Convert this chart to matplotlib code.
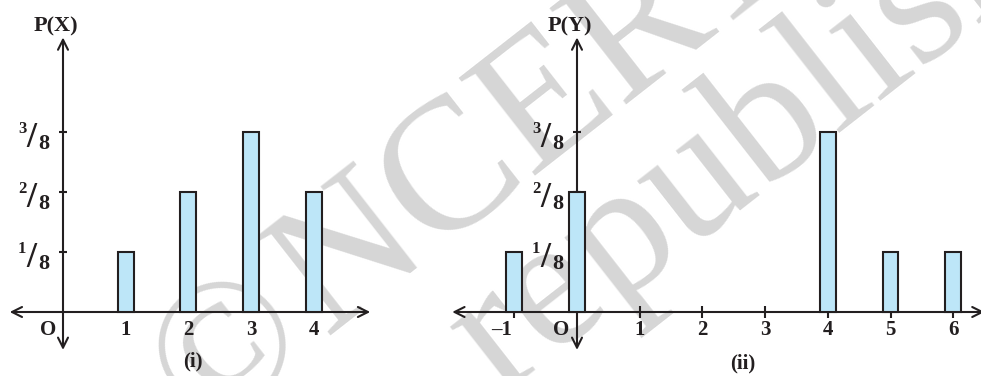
import matplotlib
matplotlib.use("Agg")
import matplotlib.pyplot as plt

# panel (i): distribution of X
x1 = [1, 2, 3, 4]
p1 = [1 / 8, 2 / 8, 3 / 8, 2 / 8]
xlabels1 = ["1", "2", "3", "4"]

# panel (ii): distribution of Y
x2 = [-1, 0, 4, 5, 6]
p2 = [1 / 8, 2 / 8, 3 / 8, 1 / 8, 1 / 8]
xticks2 = [-1, 1, 2, 3, 4, 5, 6]
xlabels2 = ["\u20131", "1", "2", "3", "4", "5", "6"]

ynum = [1, 2, 3]  # tick values are ynum / 8

FONT = "Liberation Serif"
BAR = "#bde6f8"
INK = "#231f20"
UNIT = 62.7   # px per x unit
PY = 480      # px per probability 1

fig = plt.figure(figsize=(9.81, 3.76), dpi=100)

ax1 = fig.add_axes([0, 0, 0.5, 1])
ax2 = fig.add_axes([0.5, 0, 0.5, 1])

ax1.set_xlim(-63 / UNIT, (490.5 - 63) / UNIT)
ax2.set_xlim((490.5 - 577) / UNIT, (981 - 577) / UNIT)
for ax in (ax1, ax2):
    ax.set_ylim(-64 / PY, 312 / PY)
    ax.axis("off")
    ax.set_facecolor("none")


def txt(ax, x, y, s, size=15, **kw):
    ax.text(x, y, s, ha="center", va="center", fontsize=size,
            family=FONT, weight="bold", color=INK, **kw)


def frac_label(ax, y, num):
    kw = dict(xycoords="data", textcoords="offset points", ha="center",
              va="center", family=FONT, weight="bold", color=INK)
    ax.annotate(str(num), (0, y), xytext=(-29.5, 2), fontsize=12, **kw)
    ax.annotate("/", (0, y), xytext=(-23, -4.5), fontsize=26, **kw)
    ax.annotate("8", (0, y), xytext=(-13.5, -8.5), fontsize=16, **kw)


def axes_arrows(ax, xl, xr, yb, yt):
    ap = dict(arrowstyle="<->", lw=1.5, color=INK, mutation_scale=18,
              shrinkA=0, shrinkB=0)
    ax.annotate("", xy=(xr, 0), xytext=(xl, 0), arrowprops=ap,
                annotation_clip=False)
    ax.annotate("", xy=(0, yt), xytext=(0, yb), arrowprops=ap,
                annotation_clip=False)


yt = [n / 8 for n in ynum]

# panel (i)
axes_arrows(ax1, -0.85, 4.9, -0.079, 0.572)
ax1.hlines(yt, -0.07, 0.07, color=INK, lw=1.5)
ax1.bar(x1, p1, width=0.255, color=BAR, edgecolor=INK, lw=1.5, zorder=3)
for n in ynum:
    frac_label(ax1, n / 8, n)
for x, s in zip(x1, xlabels1):
    txt(ax1, x, -0.038, s)
txt(ax1, -0.24, -0.038, "O")
txt(ax1, -0.11, 0.594, "P(X)", size=16)
txt(ax1, 2.07, -0.104, "(i)")

# panel (ii)
axes_arrows(ax2, -1.99, 6.5, -0.079, 0.572)
ax2.hlines(yt, -0.07, 0.07, color=INK, lw=1.5)
ax2.vlines(xticks2, -0.0125, 0.0125, color=INK, lw=1.5)
ax2.bar(x2, p2, width=0.255, color=BAR, edgecolor=INK, lw=1.5, zorder=3)
for n in ynum:
    frac_label(ax2, n / 8, n)
for x, s in zip(xticks2, xlabels2):
    txt(ax2, x - (0.2 if x < 0 else 0), -0.038, s)
txt(ax2, -0.255, -0.038, "O")
txt(ax2, -0.11, 0.594, "P(Y)", size=16)
txt(ax2, 2.65, -0.108, "(ii)")

# watermark
wm = dict(fontsize=135, family=FONT, color="#d6d6d6", rotation=38,
          rotation_mode="anchor", va="baseline", zorder=-1)
fig.text(325 / 981, 1 - 335 / 376, "NCERT", ha="left", **wm)
fig.text(315 / 981, 1 - 345 / 376, "\u00a9", ha="right", **wm)
fig.text(500 / 981, 1 - 395 / 376, "republished", ha="left", **wm)
fig.text(490 / 981, 1 - 403 / 376, "not to be ", ha="right", **wm)

fig.savefig("out.png", dpi=100)
